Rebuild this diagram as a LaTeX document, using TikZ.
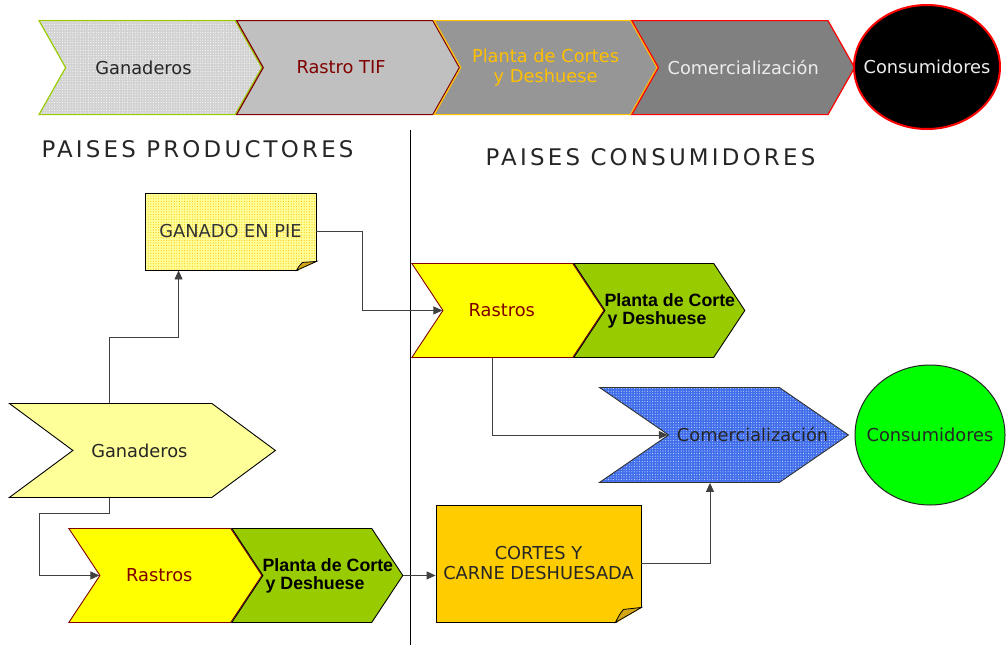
\documentclass[tikz,border=0pt]{standalone}
\usepackage{fontspec}
\setmainfont{DejaVu Sans}
\newfontfamily\headfont[LetterSpace=14]{DejaVu Sans}
\newfontfamily\boldfont{Liberation Sans}
\usetikzlibrary{positioning,shapes.symbols,shapes.geometric,patterns.meta,arrows.meta,calc}
\definecolor{cGreen}{HTML}{99CC00}
\definecolor{cDarkRed}{HTML}{800000}
\definecolor{cGold}{HTML}{FFC000}
\definecolor{cGrayA}{HTML}{C0C0C0}
\definecolor{cGrayB}{HTML}{969696}
\definecolor{cGrayC}{HTML}{808080}
\definecolor{cPale}{HTML}{FFFF99}
\definecolor{cYellow}{HTML}{FFFF00}
\definecolor{cOrange}{HTML}{FFCC00}
\definecolor{cFold}{HTML}{D4A514}
\definecolor{cBlue}{HTML}{3F6DEB}
\definecolor{cLime}{HTML}{00FF00}
\tikzset{chev/.style={signal,signal to=east,signal from=west,draw,inner sep=0pt,minimum height=94pt},
	 toprow/.style={chev,minimum width=222.8pt,signal pointer angle=121,line width=1.2pt},
	 rastros/.style={chev,fill=cYellow,draw=cDarkRed,text=cDarkRed,line width=0.9pt,signal pointer angle=113},
	 planta/.style={chev,fill=cGreen,draw=black,line width=0.9pt,signal pointer angle=113,minimum width=171pt},
	 plantatext/.style={anchor=west,inner sep=0pt,align=left,text=black,font=\boldfont\bfseries\fontsize{17.8}{18}\selectfont},
	 notebox/.style={rectangle,draw,line width=0.9pt,inner sep=0pt,align=center},
	 head/.style={font=\headfont\fontsize{22.9}{26}\selectfont,text=black!85},
	 conn/.style={draw=black!75,line width=0.9pt,-{Triangle[length=9pt,width=8pt]}},
	 dotted fill/.style={preaction={fill=#1},pattern={Dots[radius=0.55pt,distance=2.6pt]}}
	 }

\begin{document}
\begin{tikzpicture}[x=1pt,y=-1pt,font=\fontsize{17.8}{20}\selectfont]
        \useasboundingbox (0,0) rectangle (1006,646);
        % cadena superior
        \node[toprow,draw=cGreen,dotted fill=gray!35,pattern color=white,text=black!85] (ganTop) [anchor=north west] at (38,20) {\hspace*{-14pt}Ganaderos};
        \node[toprow,draw=cDarkRed,fill=cGrayA,text=cDarkRed] (rastroTop) [anchor=north west] at (ganTop.north east) {\hspace*{-14pt}Rastro TIF};
        \node[toprow,draw=cGold,fill=cGrayB,text=cGold,align=center] (plantaTop) [anchor=north west] at (rastroTop.north east) {Planta de Cortes\\y Deshuese};
        \node[toprow,draw=red,fill=cGrayC,text=white!93!black] (comTop) [anchor=north west] at (plantaTop.north east) {Comercialización};
        \node[ellipse,draw=red,line width=2pt,fill=black,text=white!93!black,minimum width=146pt,minimum height=124pt,inner sep=0pt] (consTop) at (927,67) {\makebox[0pt]{Consumidores}};
        % titulos
        \node[head] (hProd) at (197.5,149) {PAISES PRODUCTORES};
        \node[head] (hCons) at (650.5,157.5) {PAISES CONSUMIDORES};
        \draw[line width=1pt] (410,130) -- (410,645);
        % paises productores
        \node[notebox,minimum width=171pt,minimum height=77pt,dotted fill=cPale,pattern color=cGold,text=black!80] (gpie) at (230.5,231.5) {GANADO EN PIE};
        \fill[white] ($(gpie.south east)+(-20,1)$) -- ($(gpie.south east)+(1,1)$) -- ($(gpie.south east)+(1,-9)$) -- cycle;
        \draw[fill=cFold,line width=0.8pt] ($(gpie.south east)+(-20,0)$) .. controls ($(gpie.south east)+(-17,-5)$) .. ($(gpie.south east)+(-14,-8)$) -- ($(gpie.south east)+(0,-9)$) -- cycle;
        \node[chev,fill=cPale,line width=0.9pt,minimum width=266pt,signal pointer angle=73,text=black!85] (ganPP) [anchor=north west] at (8,403) {\hspace*{-6pt}Ganaderos};
        \node[rastros,minimum width=193pt] (rastrosPP) [anchor=north west] at (68,528) {\hspace*{-12pt}Rastros};
        \node[planta,label={[plantatext]west:Planta de Corte\\\hspace*{3pt}y Deshuese}] (plantaPP) [anchor=north west] at (rastrosPP.north east) {};
        % paises consumidores
        \node[rastros,minimum width=192pt] (rastrosPC) [anchor=north west] at (411,263) {\hspace*{-12pt}Rastros};
        \node[planta,label={[plantatext]west:Planta de Corte\\\hspace*{3pt}y Deshuese}] (plantaPC) [anchor=north west] at (rastrosPC.north east) {};
        \node[chev,draw=black!80,line width=0.9pt,dotted fill=cBlue,pattern color=white!75!cBlue,minimum width=249pt,minimum height=95pt,signal pointer angle=69,
          label={[anchor=west,inner sep=0pt,xshift=9pt,text=black!85]west:Comercialización}] (comPC) [anchor=north west] at (598,387) {};
        \node[ellipse,draw=black!85,line width=1pt,fill=cLime,minimum width=150pt,minimum height=140pt,inner sep=0pt,text=black!85] (consPC) at (930,435) {\makebox[0pt]{Consumidores}};
        \node[notebox,minimum width=205pt,minimum height=117pt,fill=cOrange,text=black!85] (cortes) at (538.5,563.5) {CORTES Y\\CARNE DESHUESADA};
        \fill[white] ($(cortes.south east)+(-26,1)$) -- ($(cortes.south east)+(1,1)$) -- ($(cortes.south east)+(1,-15)$) -- cycle;
        \draw[fill=cFold,line width=0.8pt] ($(cortes.south east)+(-26,0)$) .. controls ($(cortes.south east)+(-22,-8)$) .. ($(cortes.south east)+(-18,-13)$) -- ($(cortes.south east)+(0,-15)$) -- cycle;
        % conectores
        \draw[conn] (gpie.east) -- ++(46,0) |- (rastrosPC.west);
        \draw[conn] ($(rastrosPC.south west)+(81,0)$) |- (comPC.west);
        \draw[conn] ($(ganPP.north west)+(101,0)$) -- ++(0,-66) -| ($(gpie.south west)+(34,0)$);
        \draw[conn] ($(ganPP.south west)+(101,0)$) -- ++(0,16) -| ($(rastrosPP.west)+(-60,0)$) -- (rastrosPP.west);
        \draw[conn] (plantaPP.east) -- (plantaPP.east -| cortes.west);
        \draw[conn] (cortes.east) -| ($(comPC.south west)+(112,0)$);
\end{tikzpicture}
\end{document}
